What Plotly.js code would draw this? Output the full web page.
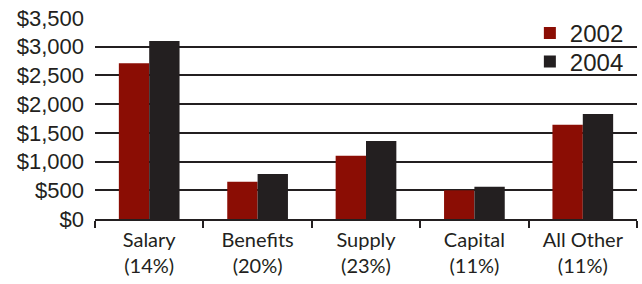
<!DOCTYPE html>
<html>
<head>
<meta charset="utf-8">
<script src="https://cdn.plot.ly/plotly-3.0.1.min.js"></script>
<style>html,body{margin:0;padding:0;background:#fff;}#chart{width:642px;height:284px;}</style>
</head>
<body>
<div id="chart"></div>
<script>
var categories = ["Salary<br>(14%)", "Benefits<br>(20%)", "Supply<br>(23%)", "Capital<br>(11%)", "All Other<br>(11%)"];
var values2002 = [2710, 650, 1100, 500, 1640];
var values2004 = [3100, 785, 1360, 560, 1830];
var seriesNames = ["2002", "2004"];
var seriesColors = ["#8b0d04", "#231f20"];

var LATO = "Lato, 'DejaVu Sans', sans-serif";
var ARIAL = "'Liberation Sans', Arial, sans-serif";
var data = [
  {type: "bar", name: seriesNames[0], x: categories, y: values2002, marker: {color: seriesColors[0]}, legend: "legend"},
  {type: "bar", name: seriesNames[1], x: categories, y: values2004, marker: {color: seriesColors[1]}, legend: "legend2"}
];
var legendCommon = {bgcolor: "rgba(0,0,0,0)", font: {size: 24, family: ARIAL, color: "#231f20"}, itemwidth: 30,
                    xanchor: "right", yanchor: "middle"};
var layout = {
  width: 642, height: 284,
  margin: {l: 95, r: 5, t: 18, b: 65, pad: 0},
  paper_bgcolor: "#fff", plot_bgcolor: "#fff",
  barmode: "group", bargap: 0.44, bargroupgap: 0,
  font: {family: LATO, color: "#231f20"},
  showlegend: true,
  legend: Object.assign({x: 0.985, y: 0.923}, legendCommon),
  legend2: Object.assign({x: 0.985, y: 0.781}, legendCommon),
  xaxis: {type: "category", showline: true, linewidth: 2, linecolor: "#231f20",
          ticks: "outside", ticklen: 7, tickwidth: 2, tickcolor: "#231f20", tickson: "boundaries",
          ticklabelstandoff: 2,
          tickfont: {size: 20, family: LATO, color: "#231f20"}, showgrid: false, fixedrange: true},
  yaxis: {range: [0, 3500], dtick: 500, tick0: 0, tickprefix: "$", tickformat: ",",
          showgrid: true, gridcolor: "#231f20", gridwidth: 2, zeroline: false, showline: false,
          ticks: "", ticklabelstandoff: 10,
          tickfont: {size: 22, family: ARIAL, color: "#231f20"}, fixedrange: true}
};
Plotly.newPlot("chart", data, layout, {displayModeBar: false, staticPlot: true});
</script>
</body>
</html>
